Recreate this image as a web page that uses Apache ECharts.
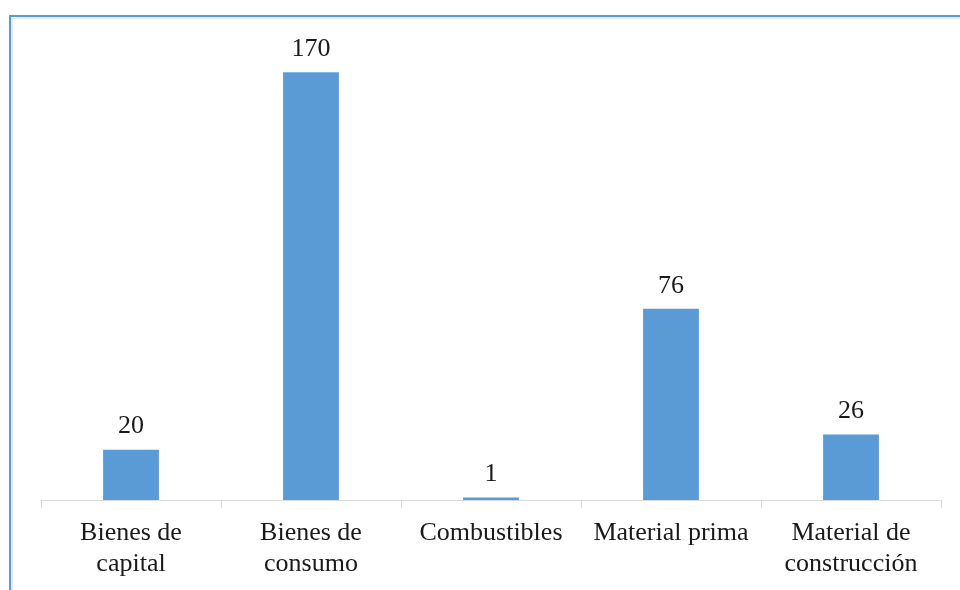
<!DOCTYPE html>
<html>
<head>
<meta charset="utf-8">
<script src="https://cdn.jsdelivr.net/npm/echarts@6/dist/echarts.min.js"></script>
<style>
  html, body { margin: 0; padding: 0; background: #fff; }
  #chart { width: 960px; height: 590px; }
</style>
</head>
<body>
<div id="chart"></div>
<script>
var categories = ["Bienes de\ncapital", "Bienes de\nconsumo", "Combustibles", "Material prima", "Material de\nconstrucción"];
var values = [20, 170, 1, 76, 26];

var myChart = echarts.init(document.getElementById("chart"));
var option = {
  animation: false,
  // marco del gráfico (borde azul arriba e izquierda)
  graphic: [
    { type: "line", shape: { x1: 9, y1: 16, x2: 960, y2: 16 }, style: { stroke: "#5b9bd5", lineWidth: 2 } },
    { type: "line", shape: { x1: 10, y1: 16, x2: 10, y2: 590 }, style: { stroke: "#5b9bd5", lineWidth: 2 } },
    { type: "line", shape: { x1: 11, y1: 18, x2: 960, y2: 18 }, style: { stroke: "#e3e3e3", lineWidth: 1.5 } },
    { type: "line", shape: { x1: 12, y1: 18, x2: 12, y2: 590 }, style: { stroke: "#e3e3e3", lineWidth: 1.5 } }
  ],
  grid: {
    left: 41,
    right: 19,
    top: 47,
    bottom: 90,
    containLabel: false
  },
  xAxis: {
    type: "category",
    data: categories,
    axisLine: { lineStyle: { color: "#d9d9d9", width: 1 } },
    axisTick: { show: true, length: 8, lineStyle: { color: "#d9d9d9" } },
    axisLabel: {
      color: "#1a1a1a",
      fontFamily: "Liberation Serif",
      fontSize: 26,
      lineHeight: 31,
      margin: 18,
      interval: 0
    }
  },
  yAxis: {
    type: "value",
    min: 0,
    max: 180,
    show: false,
    splitLine: { show: false }
  },
  series: [
    {
      type: "bar",
      data: values,
      barWidth: "31%",
      itemStyle: { color: "#5b9bd5" },
      label: {
        show: true,
        position: "top",
        distance: 10,
        color: "#1a1a1a",
        fontFamily: "Liberation Serif",
        fontSize: 26
      }
    }
  ]
};
myChart.setOption(option);
</script>
</body>
</html>
